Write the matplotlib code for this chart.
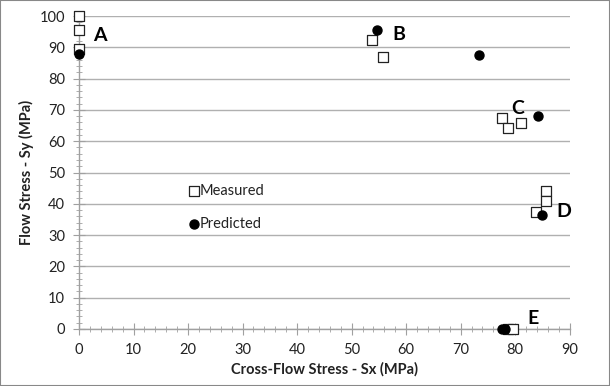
import matplotlib
matplotlib.use("Agg")
import matplotlib.pyplot as plt
from matplotlib.ticker import MultipleLocator
from matplotlib.patches import Rectangle

plt.rcParams['font.family'] = ['Lato', 'DejaVu Sans']

# Data
measured_x = [0, 0, 0, 53.7, 55.7, 77.5, 78.6, 81.0, 85.6, 85.6, 83.9, 78.7, 79.6]
measured_y = [100, 95.5, 89.6, 92.4, 86.9, 67.4, 64.2, 65.9, 44.2, 41.0, 37.5, 0, 0]
predicted_x = [0, 54.7, 73.3, 84.1, 84.9, 77.6, 78.1]
predicted_y = [87.9, 95.4, 87.6, 68.2, 36.5, 0, 0]
group_labels = ['A', 'B', 'C', 'D', 'E']
group_label_x = [2.6, 57.4, 79.2, 87.6, 82.3]
group_label_y = [93.9, 94.2, 70.6, 37.4, 3.5]

fig = plt.figure(figsize=(6.10, 3.86), dpi=100)
fig.patches.append(Rectangle((0, 0), 1, 1, transform=fig.transFigure,
                             fill=False, edgecolor='#888888', linewidth=1.5))
ax = fig.add_axes([0.1295, 0.1477, 0.8045, 0.8108])

ax.set_xlim(0, 90)
ax.set_ylim(0, 100)
ax.xaxis.set_major_locator(MultipleLocator(10))
ax.xaxis.set_minor_locator(MultipleLocator(2))
ax.yaxis.set_major_locator(MultipleLocator(10))
ax.yaxis.set_minor_locator(MultipleLocator(2))

ax.grid(axis='y', which='major', color='#b0b0b0', linewidth=1.0)
ax.set_axisbelow(True)
for s in ['top', 'right']:
    ax.spines[s].set_visible(False)
for s in ['left', 'bottom']:
    ax.spines[s].set_color('#a0a0a0')
    ax.spines[s].set_linewidth(1.0)

ax.tick_params(axis='both', which='major', direction='inout', length=8,
               color='#a0a0a0', labelsize=10.5, labelcolor='#222222', pad=6)
ax.tick_params(axis='both', which='minor', direction='inout', length=5,
               color='#a0a0a0')

ax.scatter(measured_x, measured_y, marker='s', s=42, facecolors='white',
           edgecolors='#222222', linewidths=0.9, zorder=3, clip_on=False)
ax.scatter(predicted_x, predicted_y, marker='o', s=42, color='black',
           zorder=4, clip_on=False)

for lab, lx, ly in zip(group_labels, group_label_x, group_label_y):
    ax.text(lx, ly, lab, fontsize=14, fontweight='bold', ha='left',
            va='center', color='black')

# in-plot legend
ax.scatter([21.0], [44.2], marker='s', s=42, facecolors='white',
           edgecolors='#222222', linewidths=0.9, zorder=3)
ax.text(22.2, 44.2, 'Measured', fontsize=10.5, va='center', ha='left', color='#222222')
ax.scatter([21.0], [33.5], marker='o', s=42, color='black', zorder=3)
ax.text(22.2, 33.5, 'Predicted', fontsize=10.5, va='center', ha='left', color='#222222')

ax.set_xlabel('Cross-Flow Stress - Sx (MPa)', fontsize=10.5, fontweight='bold',
              color='#222222', labelpad=4)
ax.set_ylabel('Flow Stress - Sy (MPa)', fontsize=10.5, fontweight='bold',
              color='#222222', labelpad=4)

fig.savefig('out.png', dpi=100)
